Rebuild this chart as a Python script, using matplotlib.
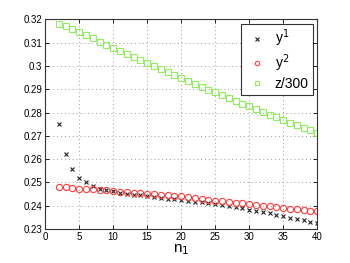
import matplotlib
matplotlib.use('Agg')
import matplotlib.pyplot as plt

n1 = list(range(2, 41))

y1 = [0.2751, 0.2624, 0.2558, 0.2521, 0.2500, 0.2484, 0.2474, 0.2467, 0.2463,
      0.2457, 0.2452, 0.2448, 0.2445, 0.2442, 0.2437, 0.2434, 0.2431, 0.2428,
      0.2426, 0.2422, 0.2418, 0.2415, 0.2411, 0.2407, 0.2403, 0.2398, 0.2393,
      0.2389, 0.2383, 0.2378, 0.2373, 0.2367, 0.2361, 0.2355, 0.2349, 0.2343,
      0.2337, 0.2331, 0.2326]

y2 = [0.2480, 0.2479, 0.2477, 0.2474, 0.2473, 0.2471, 0.2468, 0.2466, 0.2463,
      0.2461, 0.2458, 0.2457, 0.2454, 0.2452, 0.2450, 0.2448, 0.2445, 0.2444,
      0.2440, 0.2437, 0.2433, 0.2430, 0.2426, 0.2422, 0.2419, 0.2416, 0.2413,
      0.2410, 0.2406, 0.2403, 0.2400, 0.2397, 0.2394, 0.2391, 0.2388, 0.2385,
      0.2382, 0.2379, 0.2376]

z300 = [0.3181, 0.3171, 0.3158, 0.3145, 0.3132, 0.3119, 0.3105, 0.3092, 0.3078,
        0.3064, 0.3052, 0.3037, 0.3026, 0.3012, 0.2999, 0.2986, 0.2973, 0.2960,
        0.2947, 0.2934, 0.2923, 0.2910, 0.2897, 0.2887, 0.2874, 0.2861, 0.2848,
        0.2837, 0.2827, 0.2816, 0.2804, 0.2791, 0.2780, 0.2767, 0.2757, 0.2746,
        0.2736, 0.2726, 0.2714]

plt.rcParams['font.family'] = ['Liberation Sans', 'DejaVu Sans']

fig = plt.figure(figsize=(3.5, 2.63), dpi=100)
ax = fig.add_axes([0.129, 0.129, 0.777, 0.797])

ax.plot(n1, y1, 'x', color='#222222', markersize=3.2, markeredgewidth=0.8, label='y$^1$')
ax.plot(n1, y2, 'o', color='#ff4040', markerfacecolor='none', markersize=4.5,
        markeredgewidth=0.8, label='y$^2$')
ax.plot(n1, z300, 's', color='#90ee60', markerfacecolor='none', markersize=4,
        markeredgewidth=0.8, label='z/300')

ax.set_xlim(0, 40)
ax.set_ylim(0.23, 0.32)
ax.set_xticks(range(0, 41, 5))
ax.set_yticks([0.23, 0.24, 0.25, 0.26, 0.27, 0.28, 0.29, 0.30, 0.31, 0.32])
ax.set_yticklabels(['0.23', '0.24', '0.25', '0.26', '0.27', '0.28', '0.29', '0.3', '0.31', '0.32'])
ax.tick_params(direction='in', top=True, right=True, labelsize=7, length=3, width=0.6, pad=2)
ax.grid(True, linestyle=(0, (1, 3)), color='#999999', linewidth=0.7)
for s in ax.spines.values():
    s.set_linewidth(0.8)
    s.set_color('#333333')

ax.set_xlabel('n$_1$', fontsize=11, labelpad=0)

leg = ax.legend(loc='upper right', fontsize=10, fancybox=False, framealpha=1,
                edgecolor='#333333', borderpad=0.3, handlelength=1.6,
                handletextpad=0.5, labelspacing=0.2, borderaxespad=0.3,
                markerscale=0.7)
leg.get_frame().set_linewidth(0.8)

fig.savefig('out.png', dpi=100)
